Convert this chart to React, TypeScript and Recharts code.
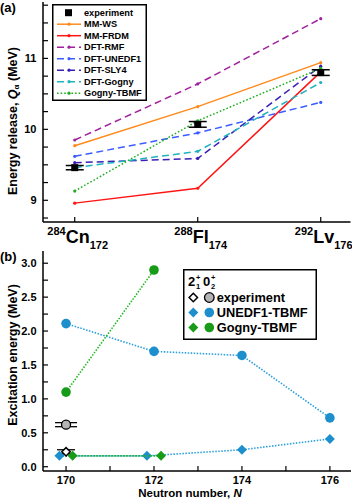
import React from 'react';
import {
  ComposedChart,
  Line,
  Scatter,
  XAxis,
  YAxis,
  ErrorBar,
  Legend,
  Label,
} from 'recharts';

const FONT = '"Liberation Sans", Arial, Helvetica, sans-serif';

// panel (a): alpha-decay energies
const nuclei = ['Cn', 'Fl', 'Lv'];
const massNumbers = ['284', '288', '292'];
const neutronLabels = ['172', '174', '176'];
const qExperiment = [9.46, 10.07, 10.8];
const qExperimentErr = [0.03, 0.04, 0.04];
const qMmWs = [9.77, 10.32, 10.94];
const qMmFrdm = [8.96, 9.17, 10.81];
const qDftRmf = [9.85, 10.64, 11.56];
const qDftUnedf1 = [9.62, 9.95, 10.38];
const qDftSly4 = [9.53, 9.59, 10.89];
const qDftGogny = [9.46, 9.69, 10.66];
const qGognyTbmf = [9.13, 10.12, 10.86];
const qTicks = [8.75, 9, 9.25, 9.5, 9.75, 10, 10.25, 10.5, 10.75, 11, 11.25, 11.5, 11.75];

// panel (b): excitation energies
const nTicks = [170, 171, 172, 173, 174, 175, 176];
const eTicks = [0, 0.25, 0.5, 0.75, 1, 1.25, 1.5, 1.75, 2, 2.25, 2.5, 2.75, 3];
const expN = [170];
const exp2plus = [0.22];
const exp0plus = [0.62];
const expErr = [0.03];
const unedfN = [170, 172, 174, 176];
const unedf2plusN = [169.85, 171.84, 174, 176];
const unedf2plus = [0.16, 0.16, 0.25, 0.41];
const unedf0plus = [2.11, 1.7, 1.64, 0.72];
const gognyN = [170, 172];
const gogny2plusN = [170.15, 172.16];
const gogny2plus = [0.16, 0.16];
const gogny0plus = [1.1, 2.9];

const series = [
  { key: 'mmws', name: 'MM-WS', color: '#ff8a1c', dash: undefined, vals: qMmWs },
  { key: 'mmfrdm', name: 'MM-FRDM', color: '#ff1414', dash: undefined, vals: qMmFrdm },
  { key: 'rmf', name: 'DFT-RMF', color: '#a0209e', dash: '7 4', vals: qDftRmf },
  { key: 'unedf1', name: 'DFT-UNEDF1', color: '#3c5cff', dash: '7 4', vals: qDftUnedf1 },
  { key: 'sly4', name: 'DFT-SLY4', color: '#3a1eb6', dash: '7 4', vals: qDftSly4 },
  { key: 'gogny', name: 'DFT-Gogny', color: '#1fb3be', dash: '7 4', vals: qDftGogny },
  { key: 'tbmf', name: 'Gogny-TBMF', color: '#1fae1f', dash: '1.6 2', vals: qGognyTbmf },
];

const qRows = nuclei.map((_, i) => {
  const row: any = { idx: i, exp: qExperiment[i], expErr: qExperimentErr[i] };
  series.forEach((s) => { row[s.key] = s.vals[i]; });
  return row;
});

const pts = (ns: number[], es: number[]) => ns.map((n, i) => ({ n, e: es[i], err: expErr[i] }));

const BLUE = '#1d8fcc';
const GREEN = '#189c18';
const BLUE_LINE = '#2aa0dc';
const GREEN_LINE = '#22b822';

const axisLine = { stroke: '#000', strokeWidth: 1.5 };
const tickLine = { stroke: '#000', strokeWidth: 1.2 };
const tickFont = { fill: '#000', fontSize: 11, fontWeight: 'bold', fontFamily: FONT };

const NucleusTick = (props: any) => {
  const { x, y, payload } = props;
  const i = payload.value;
  return (
    <text x={x + 3} y={y + 13} textAnchor="middle" fontFamily={FONT} fontWeight="bold" fill="#000">
      <tspan fontSize={11}>{massNumbers[i]}</tspan>
      <tspan fontSize={18} dy={8}>{nuclei[i]}</tspan>
      <tspan fontSize={11} dy={6}>{neutronLabels[i]}</tspan>
    </text>
  );
};

const Diamond = ({ cx, cy, fill, stroke = 'none', r = 5, sw = 0 }: any) => (
  <polygon
    points={`${cx},${cy - r} ${cx + r},${cy} ${cx},${cy + r} ${cx - r},${cy}`}
    fill={fill}
    stroke={stroke}
    strokeWidth={sw}
  />
);

const TopLegend = () => (
  <svg width={95} height={97} style={{ display: 'block' }}>
    <rect x={0.75} y={0.75} width={93.5} height={95.5} fill="#fff" stroke="#000" strokeWidth={1.5} />
    <rect x={13} y={5.2} width={7} height={7} fill="#000" />
    <text x={32} y={8.7} dominantBaseline="central" fontSize={9.2} fontWeight="bold" fontFamily={FONT}>
      experiment
    </text>
    {series.map((s, i) => {
      const cy = 8.7 + 11.5 * (i + 1);
      return (
        <g key={s.key}>
          <line x1={5} x2={29} y1={cy} y2={cy} stroke={s.color} strokeWidth={1.5} strokeDasharray={s.dash} />
          <circle cx={17} cy={cy} r={1.6} fill={s.color} />
          <text x={32} y={cy} dominantBaseline="central" fontSize={9.2} fontWeight="bold" fontFamily={FONT}>
            {s.name}
          </text>
        </g>
      );
    })}
  </svg>
);

const BottomLegend = () => {
  const rows = [
    { name: 'experiment', d: { fill: '#fff', stroke: '#000', sw: 1.5, r: 4.2 }, c: { fill: '#b4b4b4', stroke: '#000', sw: 1.3 } },
    { name: 'UNEDF1-TBMF', d: { fill: BLUE }, c: { fill: BLUE } },
    { name: 'Gogny-TBMF', d: { fill: GREEN }, c: { fill: GREEN } },
  ];
  return (
    <svg width={134} height={71} style={{ display: 'block' }}>
      <rect x={0.75} y={0.75} width={132.5} height={69.5} fill="#fff" stroke="#000" strokeWidth={1.5} />
      <text x={5} y={12.7} dominantBaseline="central" fontSize={13} fontWeight="bold" fontFamily={FONT}>2</text>
      <text x={13} y={8} dominantBaseline="central" fontSize={7.5} fontWeight="bold" fontFamily={FONT}>+</text>
      <text x={13} y={17} dominantBaseline="central" fontSize={7.5} fontWeight="bold" fontFamily={FONT}>1</text>
      <text x={20} y={12.7} dominantBaseline="central" fontSize={13} fontWeight="bold" fontFamily={FONT}>0</text>
      <text x={28} y={8} dominantBaseline="central" fontSize={7.5} fontWeight="bold" fontFamily={FONT}>+</text>
      <text x={28} y={17} dominantBaseline="central" fontSize={7.5} fontWeight="bold" fontFamily={FONT}>2</text>
      {rows.map((r, i) => {
        const cy = 28.5 + 15 * i;
        return (
          <g key={r.name}>
            <Diamond cx={10.3} cy={cy} r={5} {...r.d} />
            <circle cx={26.3} cy={cy} r={4.8} fill={r.c.fill} stroke={r.c.stroke || 'none'} strokeWidth={r.c.sw || 0} />
            <text x={33.7} y={cy} dominantBaseline="central" fontSize={12.8} fontWeight="bold" fontFamily={FONT}>
              {r.name}
            </text>
          </g>
        );
      })}
    </svg>
  );
};

const panelLabel = (text: string, top: number) => (
  <div
    style={{ position: 'absolute', left: 0, top, fontSize: 13, fontWeight: 'bold', lineHeight: '15px', fontFamily: FONT }}
  >
    {text}
  </div>
);

const App = () => {
  return (
    <div style={{ position: 'absolute', left: 0, top: 0, width: 352, height: 500, background: '#fff', fontFamily: FONT }}>
      <div style={{ position: 'absolute', left: 0, top: 0 }}>
        <ComposedChart width={352} height={250} data={qRows} margin={{ top: 2, right: 1.5, left: 0, bottom: 0 }}>
          <XAxis
            type="number"
            dataKey="idx"
            domain={[-0.258, 2.242]}
            ticks={[0, 1, 2]}
            interval={0}
            allowDataOverflow
            height={28}
            tickSize={-5}
            tickMargin={5}
            tick={<NucleusTick />}
            axisLine={axisLine}
            tickLine={tickLine}
          />
          <XAxis
            xAxisId="top"
            orientation="top"
            type="number"
            domain={[-0.258, 2.242]}
            ticks={[0, 1, 2]}
            interval={0}
            allowDataOverflow
            height={0}
            tickSize={-5}
            tickFormatter={() => ''}
            axisLine={axisLine}
            tickLine={tickLine}
          />
          <YAxis
            type="number"
            domain={[8.694, 11.795]}
            ticks={qTicks}
            interval={0}
            allowDataOverflow
            width={43}
            tickSize={-5}
            tickMargin={11.5}
            tickFormatter={(v: number) => (Number.isInteger(v) ? String(v) : '')}
            tick={tickFont}
            axisLine={axisLine}
            tickLine={tickLine}
          >
            <Label
              content={() => (
                <text
                  transform="translate(13,121) rotate(-90)"
                  textAnchor="middle"
                  dominantBaseline="central"
                  fontFamily={FONT}
                  fontSize={12.5}
                  fontWeight="bold"
                  fill="#000"
                >
                  Energy release,{'  '}
                  <tspan fontStyle="italic">Q</tspan>
                  <tspan fontSize={8} dy={3}>α</tspan>
                  <tspan dy={-3}>{'  '}(MeV)</tspan>
                </text>
              )}
            />
          </YAxis>
          <YAxis
            yAxisId="right"
            orientation="right"
            type="number"
            domain={[8.694, 11.795]}
            ticks={qTicks}
            interval={0}
            allowDataOverflow
            width={0}
            tickSize={-5}
            tickFormatter={() => ''}
            axisLine={axisLine}
            tickLine={tickLine}
          />
          {series.map((s) => (
            <Line
              key={s.key}
              dataKey={s.key}
              stroke={s.color}
              strokeWidth={1.5}
              strokeDasharray={s.dash}
              dot={{ r: 1.6, fill: s.color, stroke: s.color, strokeWidth: 0, strokeDasharray: undefined }}
              activeDot={false}
              isAnimationActive={false}
            />
          ))}
          <Line
            dataKey="exp"
            stroke="none"
            dot={(p: any) => (
              <rect key={`e${p.index}`} x={p.cx - 3.5} y={p.cy - 3.5} width={7} height={7} fill="#000" />
            )}
            activeDot={false}
            isAnimationActive={false}
          >
            <ErrorBar dataKey="expErr" direction="y" width={9} stroke="#000" strokeWidth={1.5} />
          </Line>
          <Legend
            layout="vertical"
            align="center"
            verticalAlign="middle"
            wrapperStyle={{ left: 52, top: 4, width: 95, height: 97 }}
            content={() => <TopLegend />}
          />
        </ComposedChart>
      </div>

      <div style={{ position: 'absolute', left: 0, top: 250 }}>
        <ComposedChart width={352} height={250} margin={{ top: 1, right: 1, left: 0, bottom: 0 }}>
          <XAxis
            type="number"
            dataKey="n"
            domain={[169.476, 176.48]}
            ticks={nTicks}
            interval={0}
            allowDataOverflow
            height={29}
            tickSize={-5}
            tickMargin={10}
            tickFormatter={(v: number) => (v % 2 === 0 ? String(v) : '')}
            tick={tickFont}
            axisLine={axisLine}
            tickLine={tickLine}
          >
            <Label
              content={() => (
                <text
                  x={190}
                  y={243}
                  textAnchor="middle"
                  dominantBaseline="central"
                  fontFamily={FONT}
                  fontSize={11.5}
                  fontWeight="bold"
                  fill="#000"
                >
                  Neutron number,{'  '}
                  <tspan fontStyle="italic">N</tspan>
                </text>
              )}
            />
          </XAxis>
          <XAxis
            xAxisId="top"
            orientation="top"
            type="number"
            domain={[169.476, 176.48]}
            ticks={nTicks}
            interval={0}
            allowDataOverflow
            height={0}
            tickSize={-5}
            tickFormatter={() => ''}
            axisLine={axisLine}
            tickLine={tickLine}
          />
          <YAxis
            type="number"
            domain={[-0.063, 3.18]}
            ticks={eTicks}
            interval={0}
            allowDataOverflow
            width={43}
            tickSize={-5}
            tickMargin={11.5}
            tickFormatter={(v: number) => ((v * 2) % 1 === 0 ? v.toFixed(1) : '')}
            tick={tickFont}
            axisLine={axisLine}
            tickLine={tickLine}
          >
            <Label
              content={() => (
                <text
                  transform="translate(13,105) rotate(-90)"
                  textAnchor="middle"
                  dominantBaseline="central"
                  fontFamily={FONT}
                  fontSize={12.5}
                  fontWeight="bold"
                  fill="#000"
                >
                  Excitation energy (MeV)
                </text>
              )}
            />
          </YAxis>
          <YAxis
            yAxisId="right"
            orientation="right"
            type="number"
            domain={[-0.063, 3.18]}
            ticks={eTicks}
            interval={0}
            allowDataOverflow
            width={0}
            tickSize={-5}
            tickFormatter={() => ''}
            axisLine={axisLine}
            tickLine={tickLine}
          />
          <Scatter
            data={pts(unedfN, unedf0plus)}
            dataKey="e"
            line={{ stroke: BLUE_LINE, strokeWidth: 1.6, strokeDasharray: '1.5 1.5' }}
            shape={(p: any) => <circle cx={p.cx} cy={p.cy} r={4.8} fill={BLUE} />}
            isAnimationActive={false}
          />
          <Scatter
            data={pts(gognyN, gogny0plus)}
            dataKey="e"
            line={{ stroke: GREEN_LINE, strokeWidth: 1.6, strokeDasharray: '1.5 1.5' }}
            shape={(p: any) => <circle cx={p.cx} cy={p.cy} r={4.8} fill={GREEN} />}
            isAnimationActive={false}
          />
          <Scatter
            data={pts(unedf2plusN, unedf2plus)}
            dataKey="e"
            line={{ stroke: BLUE_LINE, strokeWidth: 1.6, strokeDasharray: '1.5 1.5' }}
            shape={(p: any) => <Diamond cx={p.cx} cy={p.cy} r={5} fill={BLUE} />}
            isAnimationActive={false}
          />
          <Scatter
            data={pts(gogny2plusN, gogny2plus)}
            dataKey="e"
            line={{ stroke: GREEN_LINE, strokeWidth: 1.6, strokeDasharray: '1.5 1.5' }}
            shape={(p: any) => <Diamond cx={p.cx} cy={p.cy} r={5} fill={GREEN} />}
            isAnimationActive={false}
          />
          <Scatter
            data={pts(expN, exp0plus)}
            dataKey="e"
            shape={(p: any) => <circle cx={p.cx} cy={p.cy} r={4.5} fill="#b4b4b4" stroke="#000" strokeWidth={1.3} />}
            isAnimationActive={false}
          >
            <ErrorBar dataKey="err" direction="y" width={11} stroke="#000" strokeWidth={1.3} />
          </Scatter>
          <Scatter
            data={pts(expN, exp2plus)}
            dataKey="e"
            shape={(p: any) => <Diamond cx={p.cx} cy={p.cy} r={4.2} fill="#fff" stroke="#000" sw={1.5} />}
            isAnimationActive={false}
          >
            <ErrorBar dataKey="err" direction="y" width={9} stroke="#000" strokeWidth={1.3} />
          </Scatter>
          <Legend
            layout="vertical"
            align="center"
            verticalAlign="middle"
            wrapperStyle={{ left: 183, top: 19, width: 134, height: 71 }}
            content={() => <BottomLegend />}
          />
        </ComposedChart>
      </div>

      {panelLabel('(a)', 0)}
      {panelLabel('(b)', 249)}
    </div>
  );
};

export default App;
